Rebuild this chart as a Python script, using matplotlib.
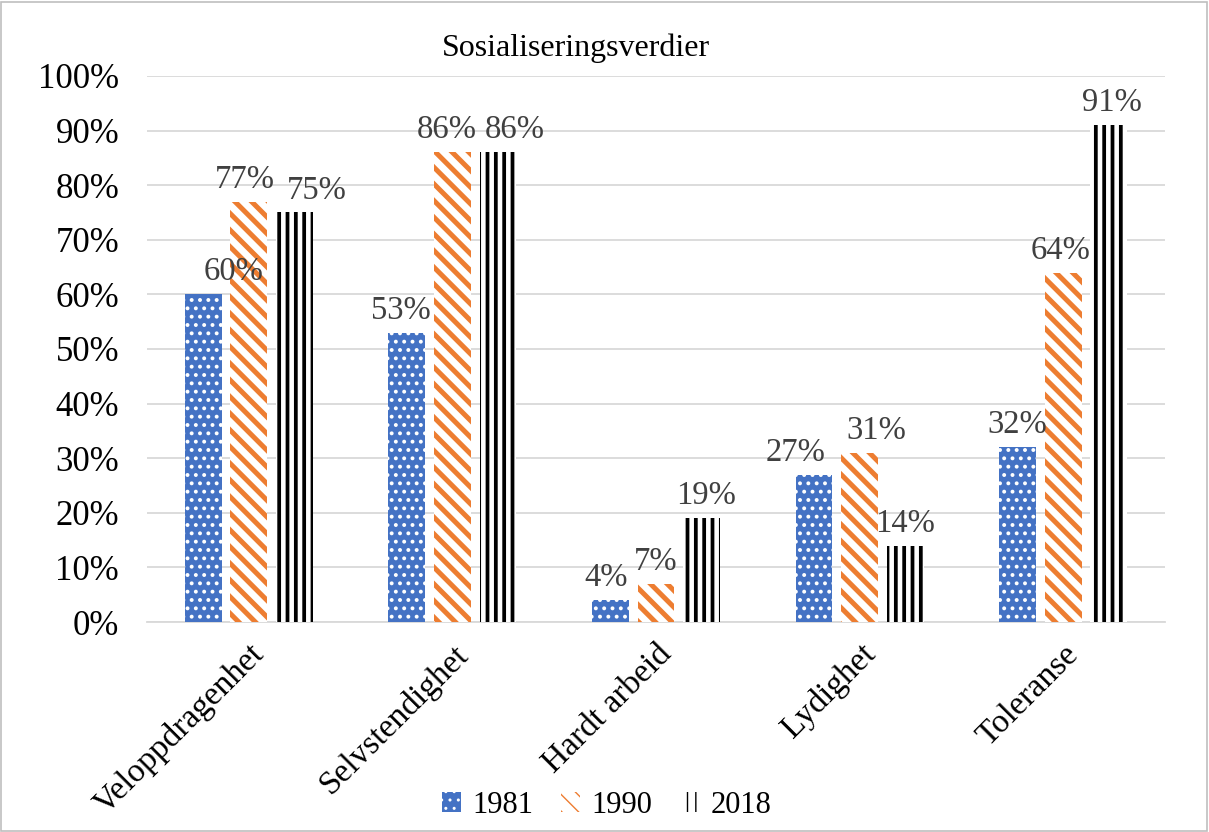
import matplotlib

matplotlib.use('Agg')
import matplotlib.pyplot as plt
from matplotlib.patches import Rectangle
import numpy as np

kategorier = ['Veloppdragenhet', 'Selvstendighet', 'Hardt arbeid', 'Lydighet', 'Toleranse']
aar = ['1981', '1990', '2018']
v1981 = [60, 53, 4, 27, 32]
v1990 = [77, 86, 7, 31, 64]
v2018 = [75, 86, 19, 14, 91]
yticks = [0, 10, 20, 30, 40, 50, 60, 70, 80, 90, 100]

plt.rcParams['font.family'] = ['Liberation Serif', 'DejaVu Serif']

blue = '#4472C4'
orange = '#ED7D31'

fig = plt.figure(figsize=(12.09, 8.32), dpi=100)
ax = fig.add_axes([0.1216, 0.2524, 0.842, 0.6563])

x = np.arange(len(kategorier))
step = 0.224
w = 0.18

stiler = [
    dict(facecolor=blue, edgecolor='white', hatch='..', lw_h=1.6),
    dict(facecolor='white', edgecolor=orange, hatch='\\\\', lw_h=3.6),
    dict(facecolor='white', edgecolor='black', hatch='||', lw_h=2.7),
]

# lite flytting av etikettene, som i Excel
dx = [
    [22, -3, 16],
    [-4, -4, 12],
    [-3, 0, 3],
    [-13, 12, 0],
    [0, -2, 2],
]

alle = [v1981, v1990, v2018]
for i, (verdier, st) in enumerate(zip(alle, stiler)):
    with plt.rc_context({'hatch.linewidth': st['lw_h']}):
        bars = ax.bar(x + (i - 1) * step, [v / 100 for v in verdier], w,
                      facecolor=st['facecolor'], edgecolor=st['edgecolor'],
                      hatch=st['hatch'], linewidth=0, label=aar[i], zorder=3)
    for j, b in enumerate(bars):
        ax.annotate(f'{verdier[j]}%', (b.get_x() + b.get_width() / 2, b.get_height()),
                    xytext=(dx[j][i], 5), textcoords='offset points',
                    ha='center', va='bottom', fontsize=23.5, color='#404040', zorder=6)

ax.set_xlim(-0.5, len(kategorier) - 0.5)
ax.set_ylim(0, 1.0)
ax.set_yticks([t / 100 for t in yticks])
ax.set_yticklabels([f'{t}%' for t in yticks], fontsize=25)
ax.set_xticks(x)
ax.set_xticklabels(kategorier, rotation=45, ha='right', rotation_mode='anchor', fontsize=24)
ax.tick_params(axis='y', length=0, pad=20)
ax.tick_params(axis='x', length=0, pad=12)
ax.grid(axis='y', color='#d9d9d9', linewidth=1.3, zorder=0)
for s in ['left', 'right', 'top']:
    ax.spines[s].set_visible(False)
ax.spines['bottom'].set_color('#d9d9d9')
ax.spines['bottom'].set_linewidth(1.3)

fig.text(0.476, 0.942, 'Sosialiseringsverdier', ha='center', va='center', fontsize=23)

fig.legend(loc='center', bbox_to_anchor=(0.502, 0.032), ncol=3, frameon=False,
           fontsize=22, handlelength=0.6, handleheight=0.6, handletextpad=0.4,
           columnspacing=0.9)

fig.patches.append(Rectangle((0.001, 0.001), 0.997, 0.997, transform=fig.transFigure,
                             fill=False, edgecolor='#bfbfbf', linewidth=1.2))

plt.savefig('out.png', dpi=100)
